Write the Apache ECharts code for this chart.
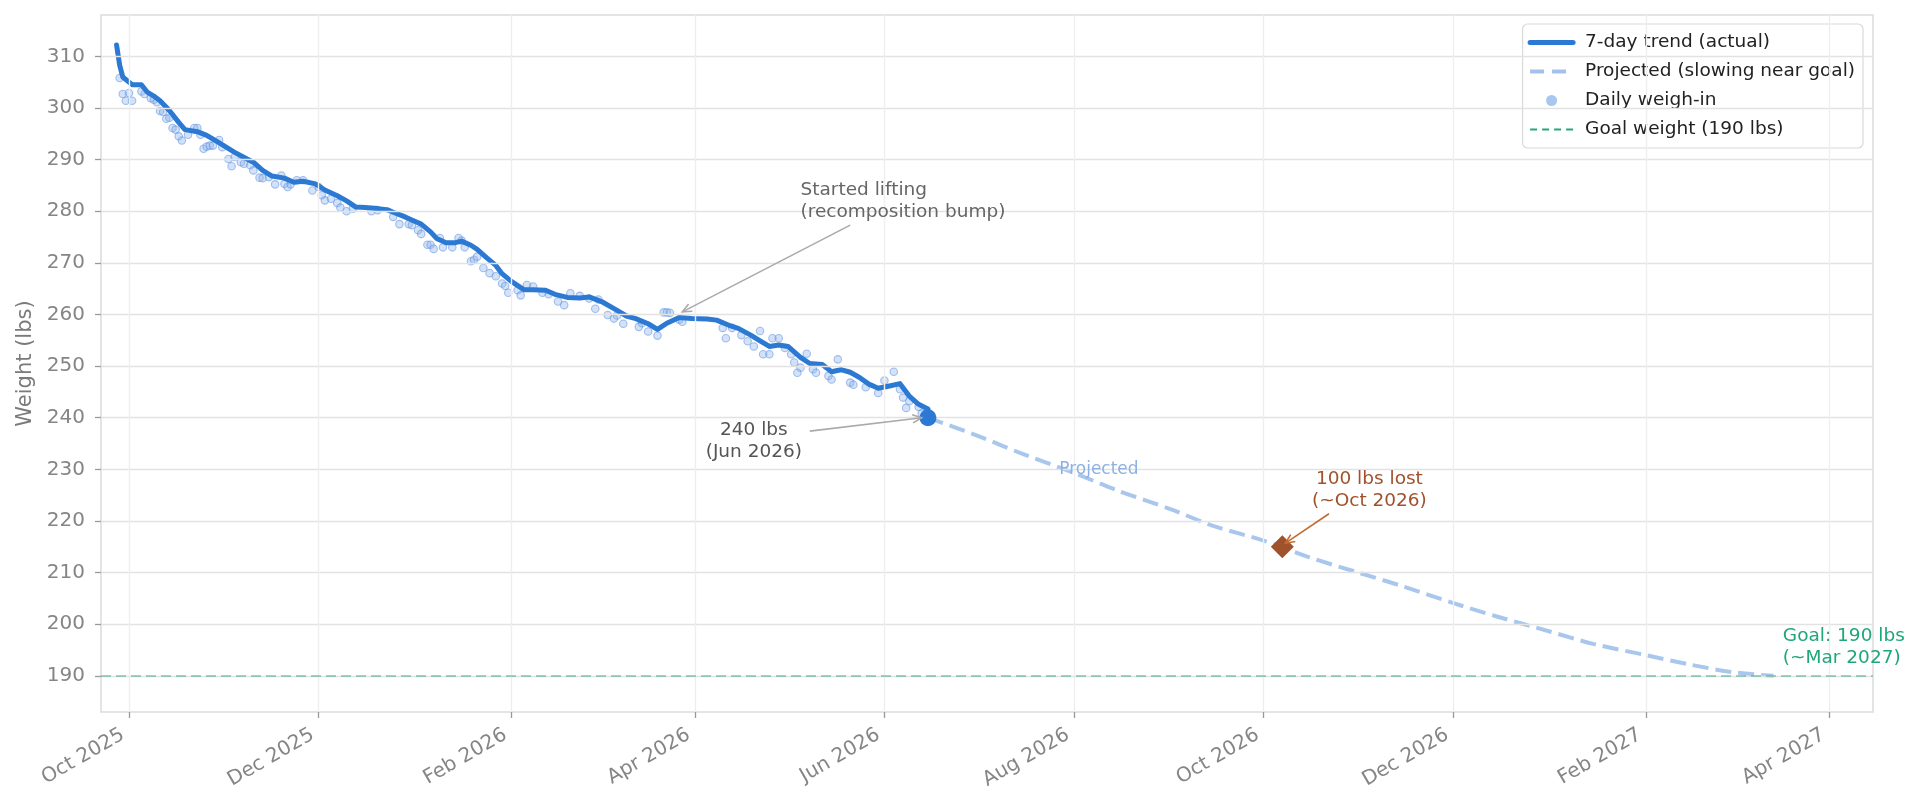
<!DOCTYPE html>
<html>
<head>
<meta charset="utf-8">
<title>Weight loss trend</title>
<script src="https://cdn.jsdelivr.net/npm/echarts@6.0.0/dist/echarts.min.js"></script>
<style>
  html, body { margin: 0; padding: 0; background: #fff; }
  #chart { width: 1921px; height: 809px; }
</style>
</head>
<body>
<div id="chart"></div>
<script>
const FONT = 'DejaVu Sans';

// 7-day rolling trend (actual)
const trendDates = [
  '2025-09-27','2025-09-28','2025-09-29','2025-10-01','2025-10-02','2025-10-05','2025-10-07','2025-10-09',
  '2025-10-11','2025-10-14','2025-10-17','2025-10-19','2025-10-23','2025-10-26','2025-10-29','2025-11-01',
  '2025-11-04','2025-11-08','2025-11-10','2025-11-13','2025-11-16','2025-11-20','2025-11-23','2025-11-26',
  '2025-11-30','2025-12-03','2025-12-07','2025-12-10','2025-12-13','2025-12-16','2025-12-20','2025-12-23',
  '2025-12-25','2025-12-28','2025-12-31','2026-01-03','2026-01-06','2026-01-08','2026-01-11','2026-01-14',
  '2026-01-16','2026-01-19','2026-01-21','2026-01-24','2026-01-27','2026-01-29','2026-02-01','2026-02-05',
  '2026-02-08','2026-02-12','2026-02-15','2026-02-19','2026-02-23','2026-02-26','2026-03-02','2026-03-07',
  '2026-03-10','2026-03-13','2026-03-17','2026-03-20','2026-03-23','2026-03-27','2026-03-31','2026-04-05',
  '2026-04-08','2026-04-12','2026-04-15','2026-04-19','2026-04-22','2026-04-25','2026-04-28','2026-05-01',
  '2026-05-05','2026-05-08','2026-05-12','2026-05-15','2026-05-18','2026-05-21','2026-05-24','2026-05-27',
  '2026-05-30','2026-06-03','2026-06-06','2026-06-09','2026-06-12','2026-06-15'
];
const trendValues = [
  312.2, 308.3, 306.0, 305.0, 304.5, 304.5, 303.0, 302.3,
  301.4, 299.5, 297.2, 295.8, 295.4, 294.7, 293.6, 292.5,
  291.4, 290.1, 289.5, 287.9, 286.8, 286.4, 285.6, 285.8,
  285.3, 284.1, 283.0, 282.0, 280.8, 280.7, 280.5, 280.3,
  279.8, 279.1, 278.3, 277.5, 276.0, 274.7, 273.9, 273.9,
  274.2, 273.4, 272.6, 271.0, 269.5, 267.9, 266.4, 264.8,
  264.8, 264.7, 263.9, 263.3, 263.2, 263.4, 262.5, 260.8,
  259.7, 259.2, 258.2, 257.1, 258.3, 259.4, 259.2, 259.1,
  258.9, 257.9, 257.3, 256.0, 254.9, 253.8, 254.1, 253.8,
  251.7, 250.5, 250.3, 248.9, 249.3, 248.8, 247.8, 246.5,
  245.7, 246.2, 246.6, 244.2, 242.6, 241.7
];

// daily weigh-ins
const weighInDates = [
  '2025-09-28','2025-09-29','2025-09-30','2025-10-01','2025-10-02','2025-10-05','2025-10-06','2025-10-08',
  '2025-10-09','2025-10-10','2025-10-11','2025-10-12','2025-10-13','2025-10-14','2025-10-15','2025-10-16',
  '2025-10-17','2025-10-18','2025-10-20','2025-10-22','2025-10-23','2025-10-24','2025-10-25','2025-10-26',
  '2025-10-27','2025-10-28','2025-10-30','2025-10-31','2025-11-02','2025-11-03','2025-11-04','2025-11-06',
  '2025-11-07','2025-11-09','2025-11-10','2025-11-12','2025-11-13','2025-11-15','2025-11-17','2025-11-19',
  '2025-11-20','2025-11-21','2025-11-22','2025-11-24','2025-11-26','2025-11-29','2025-12-01','2025-12-02',
  '2025-12-03','2025-12-05','2025-12-07','2025-12-08','2025-12-10','2025-12-12','2025-12-18','2025-12-20',
  '2025-12-25','2025-12-27','2025-12-30','2025-12-31','2026-01-02','2026-01-03','2026-01-05','2026-01-06',
  '2026-01-07','2026-01-09','2026-01-10','2026-01-13','2026-01-15','2026-01-16','2026-01-17','2026-01-19',
  '2026-01-20','2026-01-21','2026-01-23','2026-01-25','2026-01-27','2026-01-29','2026-01-30','2026-01-31',
  '2026-02-03','2026-02-04','2026-02-06','2026-02-08','2026-02-11','2026-02-13','2026-02-16','2026-02-18',
  '2026-02-20','2026-02-23','2026-02-26','2026-02-28','2026-03-01','2026-03-04','2026-03-06','2026-03-07',
  '2026-03-09','2026-03-14','2026-03-15','2026-03-17','2026-03-20','2026-03-22','2026-03-23','2026-03-24',
  '2026-03-27','2026-03-28','2026-04-10','2026-04-11','2026-04-13','2026-04-16','2026-04-18','2026-04-20',
  '2026-04-22','2026-04-23','2026-04-25','2026-04-26','2026-04-28','2026-04-30','2026-05-02','2026-05-03',
  '2026-05-04','2026-05-05','2026-05-07','2026-05-09','2026-05-10','2026-05-14','2026-05-15','2026-05-17',
  '2026-05-21','2026-05-22','2026-05-26','2026-05-30','2026-06-01','2026-06-04','2026-06-06','2026-06-07',
  '2026-06-08','2026-06-09','2026-06-12','2026-06-13'
];
const weighInValues = [
  305.8, 302.7, 301.4, 302.9, 301.4, 303.2, 302.7, 301.9,
  301.6, 301.1, 299.4, 299.2, 297.9, 298.1, 296.1, 295.8,
  294.5, 293.7, 294.8, 296.1, 296.1, 294.8, 292.1, 292.5,
  292.7, 292.7, 293.8, 292.4, 290.1, 288.7, 290.5, 289.5,
  289.2, 288.9, 287.9, 286.5, 286.4, 286.6, 285.2, 286.9,
  285.3, 284.7, 285.2, 286.0, 286.0, 284.0, 284.7, 283.1,
  282.1, 282.4, 281.6, 280.7, 280.0, 280.5, 280.0, 280.2,
  278.9, 277.5, 277.5, 277.3, 276.3, 275.6, 273.5, 273.5,
  272.7, 274.8, 273.0, 273.0, 274.8, 274.3, 273.0, 270.3,
  270.6, 271.2, 269.0, 268.0, 267.4, 266.0, 265.5, 264.2,
  264.7, 263.7, 265.7, 265.4, 264.2, 263.9, 262.5, 261.8,
  264.1, 263.6, 263.1, 261.1, 262.9, 259.9, 259.2, 259.8,
  258.2, 257.6, 258.3, 256.7, 255.9, 260.4, 260.4, 260.3,
  259.0, 258.6, 257.4, 255.4, 257.4, 256.0, 254.8, 253.8,
  256.8, 252.3, 252.3, 255.4, 255.4, 253.5, 252.3, 250.7,
  248.7, 249.7, 252.4, 249.4, 248.7, 248.1, 247.4, 251.3,
  246.8, 246.4, 245.9, 244.8, 247.2, 248.9, 245.5, 243.9,
  241.9, 243.2, 242.1, 240.8
];

// projection, slowing near goal
const projDates = [
  '2026-06-15','2026-07-01','2026-07-15','2026-08-01','2026-08-15','2026-09-01','2026-09-15','2026-10-01',
  '2026-10-15','2026-11-01','2026-11-15','2026-12-01','2026-12-15','2027-01-01','2027-01-15','2027-02-01',
  '2027-02-15','2027-03-01','2027-03-14'
];
const projValues = [
  240.0, 236.5, 233.1, 229.3, 225.9, 222.3, 219.0, 216.2,
  213.1, 209.9, 207.3, 204.1, 201.5, 198.6, 196.2, 194.0,
  192.2, 190.7, 190.0
];

const currentPoint = ['2026-06-15', 240];
const milestonePoint = ['2026-10-07', 215];
const goalWeight = 190;

const yTicks = [190, 200, 210, 220, 230, 240, 250, 260, 270, 280, 290, 300, 310];
const xTickDates = ['2025-10-01','2025-12-01','2026-02-01','2026-04-01','2026-06-01','2026-08-01',
                    '2026-10-01','2026-12-01','2027-02-01','2027-04-01'];
const xTickLabels = ['Oct 2025','Dec 2025','Feb 2026','Apr 2026','Jun 2026','Aug 2026',
                     'Oct 2026','Dec 2026','Feb 2027','Apr 2027'];

// text annotations, anchored in data coordinates
const notes = [
  { text: 'Started lifting\n(recomposition bump)', at: ['2026-05-05', 281.9], align: 'left', color: '#666666',
    from: ['2026-05-21', 277.3], to: ['2026-03-28', 260.5], arrow: '#aaaaaa' },
  { text: '240 lbs\n(Jun 2026)', at: ['2026-04-20', 235.5], align: 'center', color: '#555555',
    from: ['2026-05-08', 237.4], to: ['2026-06-13', 240.0], arrow: '#aaaaaa' },
  { text: '100 lbs lost\n(~Oct 2026)', at: ['2026-11-04', 226.0], align: 'center', color: '#a0522d',
    from: ['2026-10-22', 221.4], to: ['2026-10-08', 215.7], arrow: '#bf6d32' },
  { text: 'Goal: 190 lbs\n(~Mar 2027)', at: ['2027-03-17', 195.6], align: 'left', color: '#1ea77b' },
  { text: 'Projected', at: ['2026-08-09', 230.0], align: 'center', color: '#8db1e2', size: 17 }
];

function ts(s) {
  const p = s.split('-').map(Number);
  return new Date(p[0], p[1] - 1, p[2]).getTime();
}
function zip(dates, vals) {
  return dates.map((d, i) => [ts(d), vals[i]]);
}

const xTickTs = xTickDates.map(ts);
const noSymbol = { opacity: 0 };

const chart = echarts.init(document.getElementById('chart'));

const option = {
  animation: false,
  grid: {
    left: 101, right: 48, top: 15, bottom: 97,
    show: true, borderColor: '#dcdcdc', borderWidth: 1.5, backgroundColor: 'transparent'
  },
  legend: {
    orient: 'vertical',
    right: 58, top: 24,
    padding: [9, 8, 9, 5],
    itemGap: 10,
    itemWidth: 43, itemHeight: 11,
    selectedMode: false,
    backgroundColor: 'rgba(255,255,255,0.85)',
    borderColor: '#d9d9d9', borderWidth: 1.2, borderRadius: 5,
    textStyle: { fontFamily: FONT, fontSize: 18.5, color: '#222', padding: [0, 0, 0, 7] },
    data: [
      { name: '7-day trend (actual)', itemStyle: noSymbol, lineStyle: { color: '#2c79d3', width: 5 } },
      { name: 'Projected (slowing near goal)', itemStyle: noSymbol,
        lineStyle: { color: '#a3c1ea', width: 4, type: [14, 8] } },
      { name: 'Daily weigh-in', icon: 'circle', itemStyle: { color: '#a8c6ee', borderWidth: 0, opacity: 1 } },
      { name: 'Goal weight (190 lbs)', itemStyle: noSymbol,
        lineStyle: { color: '#2aa57b', width: 2.2, type: [7, 5] } }
    ]
  },
  xAxis: {
    // dates as timestamps on a value axis so ticks can sit on month starts
    type: 'value',
    min: ts('2025-09-22'),
    max: ts('2027-04-15'),
    axisLine: { show: false },
    splitLine: { show: false },
    axisTick: { show: true, customValues: xTickTs, length: 6, lineStyle: { color: '#999', width: 1.3 } },
    axisLabel: {
      customValues: xTickTs,
      rotate: 30,
      margin: 18,
      padding: [0, 7, 0, 0],
      fontFamily: FONT, fontSize: 20, color: '#858585',
      formatter: function (val) {
        const i = xTickTs.indexOf(val);
        return i >= 0 ? xTickLabels[i] : '';
      }
    }
  },
  yAxis: {
    type: 'value',
    min: 183, max: 318,
    name: 'Weight (lbs)',
    nameLocation: 'middle',
    nameGap: 64,
    nameTextStyle: { fontFamily: FONT, fontSize: 21, color: '#7a7a7a' },
    axisLine: { show: false },
    splitLine: { show: false },
    axisTick: { show: true, customValues: yTicks, length: 6, lineStyle: { color: '#999', width: 1.3 } },
    axisLabel: { customValues: yTicks, margin: 16, fontFamily: FONT, fontSize: 20, color: '#858585' }
  },
  series: [
    {
      // grid lines
      type: 'line', name: '_grid', data: [], silent: true, z: 1,
      markLine: {
        silent: true, symbol: ['none', 'none'], label: { show: false }, animation: false,
        data: yTicks.map(v => ({ yAxis: v, lineStyle: { color: '#e2e2e2', width: 1.4, type: 'solid' } }))
          .concat(xTickTs.map(t => ({ xAxis: t, lineStyle: { color: '#eeeeee', width: 1.4, type: 'solid' } })))
      }
    },
    {
      type: 'line', name: 'Goal weight (190 lbs)', data: [], z: 2,
      lineStyle: { color: '#2aa57b', width: 2, type: [7, 5] },
      markLine: {
        silent: true, symbol: ['none', 'none'], label: { show: false },
        data: [{ yAxis: goalWeight }],
        lineStyle: { color: 'rgba(30,160,122,0.42)', width: 1.8, type: [10, 5] }
      }
    },
    {
      type: 'scatter', name: 'Daily weigh-in', z: 3,
      data: zip(weighInDates, weighInValues),
      symbolSize: 7.5,
      itemStyle: { color: 'rgba(140,180,236,0.38)', borderColor: 'rgba(95,145,222,0.55)', borderWidth: 1.1, opacity: 1 }
    },
    {
      type: 'line', name: 'Projected (slowing near goal)', z: 3,
      data: zip(projDates, projValues),
      smooth: 0.3, showSymbol: false, symbol: 'none',
      lineStyle: { color: '#a9c7ec', width: 4, type: [16, 7] }
    },
    {
      type: 'line', name: '7-day trend (actual)', z: 4,
      data: zip(trendDates, trendValues),
      showSymbol: false, symbol: 'none',
      lineStyle: { color: '#2c79d3', width: 5, cap: 'round', join: 'round' }
    },
    {
      type: 'scatter', name: 'current', z: 6,
      data: [[ts(currentPoint[0]), currentPoint[1]]],
      symbolSize: 17, itemStyle: { color: '#2c79d3', opacity: 1 }
    },
    {
      type: 'scatter', name: 'milestone', z: 6,
      data: [[ts(milestonePoint[0]), milestonePoint[1]]],
      symbol: 'diamond', symbolSize: 23, itemStyle: { color: '#a0522d', opacity: 1 }
    }
  ]
};

chart.setOption(option);

function px(p) {
  return chart.convertToPixel({ gridIndex: 0 }, [ts(p[0]), p[1]]);
}

function arrowParts(from, to, color) {
  const a = px(from), b = px(to);
  const ang = Math.atan2(b[1] - a[1], b[0] - a[0]);
  const L = 10, spread = 0.42;
  const h1 = [b[0] - L * Math.cos(ang - spread), b[1] - L * Math.sin(ang - spread)];
  const h2 = [b[0] - L * Math.cos(ang + spread), b[1] - L * Math.sin(ang + spread)];
  return [
    { type: 'line', silent: true, z: 50, shape: { x1: a[0], y1: a[1], x2: b[0], y2: b[1] },
      style: { stroke: color, lineWidth: 1.6 } },
    { type: 'polyline', silent: true, z: 50, shape: { points: [h1, b, h2] },
      style: { stroke: color, lineWidth: 1.6, fill: null } }
  ];
}

const graphics = [];
notes.forEach(n => {
  const p = px(n.at);
  graphics.push({
    type: 'text', silent: true, z: 50, x: p[0], y: p[1],
    style: {
      text: n.text, fill: n.color,
      fontFamily: FONT, fontSize: n.size || 18.5, lineHeight: 22,
      align: n.align, verticalAlign: 'middle',
      textAlign: n.align, textVerticalAlign: 'middle'
    }
  });
  if (n.from) graphics.push(...arrowParts(n.from, n.to, n.arrow));
});

chart.setOption({ graphic: graphics });
</script>
</body>
</html>
